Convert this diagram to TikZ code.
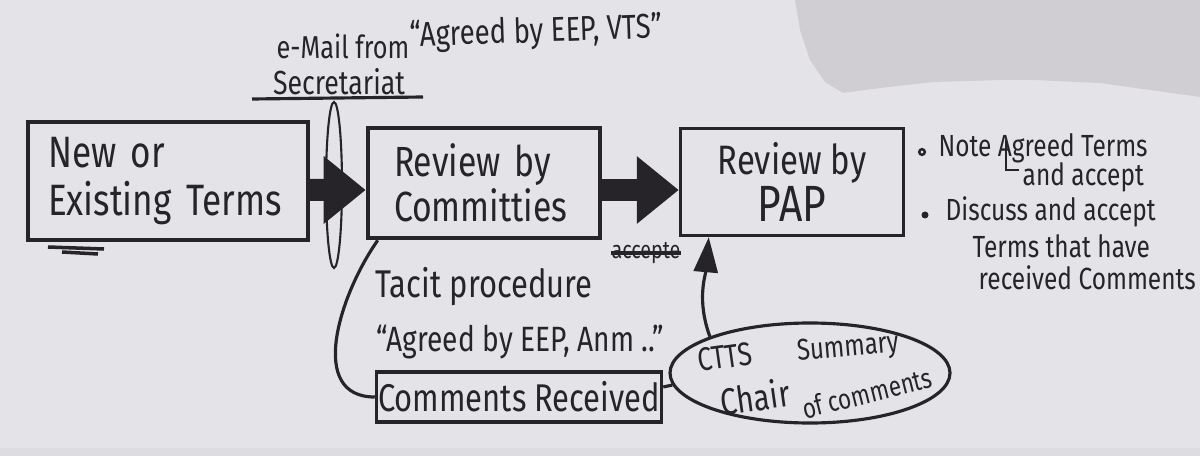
\documentclass[tikz,border=0pt]{standalone}
\usepackage{fontspec}
\setmainfont{Fira Sans}[FakeStretch=0.8]
\usepackage{tikz}
\usetikzlibrary{arrows.meta,shapes.geometric,calc}
\usepackage{xcolor}
\definecolor{ink}{RGB}{38,36,40}
\definecolor{paper}{RGB}{228,228,232}
\definecolor{torn}{RGB}{208,205,211}
\tikzstyle{termbox} = [draw=ink, text=ink, line width=1pt, inner sep=0pt, font=\fontsize{12.5}{13.7}\selectfont]
\tikzstyle{fatarrow} = [line width=2.2mm, draw=ink, -{Triangle[length=4.2mm,width=6.5mm]}]
\tikzstyle{link} = [draw=ink, line width=0.9pt]
\tikzstyle{hand} = [text=ink, inner sep=0pt]
\tikzstyle{note} = [text=ink, inner sep=0pt, anchor=west, font=\fontsize{8.7}{10}\selectfont]

\begin{document}
\begin{tikzpicture}[x=0.1mm, y=-0.1mm]
% paper and torn corner
\fill[paper] (0,0) rectangle (1200,456);
\fill[torn] (795,0) -- (800,30) -- (810,60) -- (825,82) -- (843,93) -- (880,88) -- (933,82) -- (1000,80) -- (1033,80) -- (1100,83) -- (1150,90) -- (1200,97) -- (1200,0) -- cycle;
\fill[torn!35!paper] (0,448) rectangle (1200,456);
\useasboundingbox (0,0) rectangle (1200,456);

% Main flow boxes
\node[termbox, minimum width=28mm, minimum height=11.8mm, text width=24mm, align=left] (ext) at (168,181) {New or\\Existing Terms};
\node[termbox, line width=1.3pt, minimum width=23.2mm, minimum height=11mm, text width=18mm, align=left, font=\fontsize{12}{10.5}\selectfont] (comm) at (484,183) {Review by\\Committies};
\node[termbox, minimum width=22.3mm, minimum height=10.7mm, align=center, font=\fontsize{11.7}{12}\selectfont] (pap) at (792,182) {Review by\\{\fontsize{14.5}{15}\selectfont PAP}};
\node[termbox, minimum width=28.5mm, minimum height=5mm, font=\fontsize{11}{12}\selectfont] (cr) at (519,397) {Comments Received};
\node[draw=ink, line width=0.9pt, ellipse, minimum width=28mm, minimum height=10mm, inner sep=0pt] (chair) at (810,373) {};

% Labels above
\node[hand, font=\fontsize{9}{10}\selectfont] (mail) at (343,46) {e-Mail from};
\node[hand, font=\fontsize{9.5}{11}\selectfont] (secr) at (339,82) {Secretariat};
\node[hand, rotate=2, font=\fontsize{9.8}{11}\selectfont] (vts) at (536,33) {“Agreed by EEP, VTS”};
\draw[link] (252,99) -- (423,97);

% Labels below
\node[hand, font=\fontsize{11}{12}\selectfont] (tacit) at (484,287) {Tacit procedure};
\node[hand, font=\fontsize{10}{12}\selectfont] (anm) at (520,342) {“Agreed by EEP, Anm ..”};
\node[hand, font=\fontsize{7}{8}\selectfont] (acc) at (646,253) {accepte};
\draw[ink, line width=1.2pt] (acc.west) -- (acc.east);

% Chair ellipse text
\node[hand, rotate=8, font=\fontsize{9.3}{10}\selectfont] (ctts) at (725,357) {CTTS};
\node[hand, rotate=8, font=\fontsize{10.5}{11}\selectfont] (chr) at (755,397) {Chair};
\node[hand, rotate=5, font=\fontsize{8.5}{9}\selectfont] (summ) at (848,349) {Summary};
\node[hand, rotate=14, font=\fontsize{8}{9}\selectfont] (ofc) at (867,393) {of comments};

% Notes on the right
\draw[ink, line width=0.7pt] (922,152) circle[radius=0.28mm];
\fill[ink] (925,215) circle[radius=0.35mm];
\node[note] (n1) at (938,148) {Note Agreed Terms};
\node[note] (n1b) at (1022,177) {and accept};
\draw[ink, line width=0.6pt] (1006,140) -- (1006,170) -- (1019,170);
\node[note] (n2) at (945,212) {Discuss and accept};
\node[note] (n2b) at (972,246) {Terms that have};
\node[note] (n2c) at (978,278) {received Comments};

% Connectors
\draw[fatarrow] ([yshift=-0.9mm]ext.east) -- ([yshift=-0.7mm]comm.west);
\draw[fatarrow] ([yshift=-0.7mm]comm.east) -- ([yshift=-0.8mm]pap.west);
\draw[link] (cr.west) to[out=180, in=235, looseness=1.1] ([xshift=1.2mm]comm.south west);
\draw[link] ([yshift=1mm]cr.east) -- (chair.185);
\draw[link, -{Triangle[length=3.5mm, width=2.4mm]}] (chair.160) to[out=110, in=265] ([xshift=3mm]pap.south west);

% Secretariat marker
\draw[ink, line width=0.6pt] (334,185) ellipse [x radius=0.8mm, y radius=8.3mm];
\draw[ink, line width=1pt] (48,247) -- (104,249);
\draw[ink, line width=1pt] (62,252) -- (98,254);
\end{tikzpicture}
\end{document}
